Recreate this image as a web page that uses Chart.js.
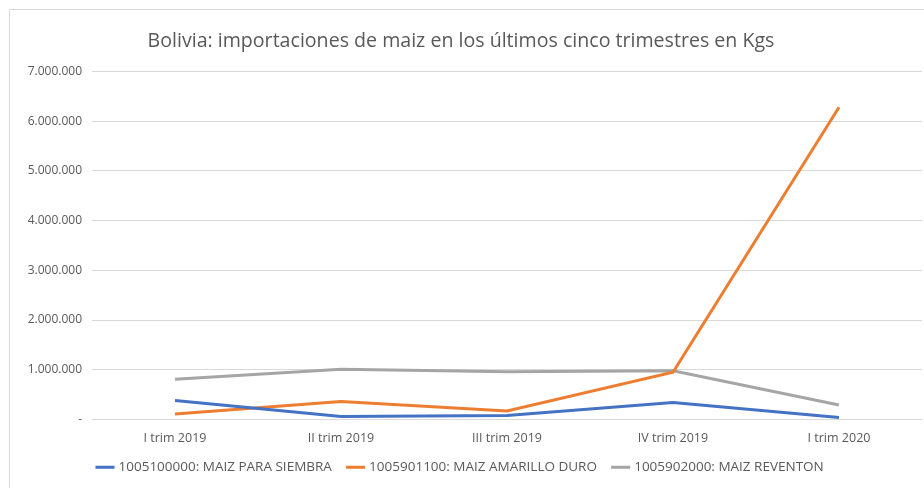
<!DOCTYPE html>
<html>
<head>
<meta charset="utf-8">
<script src="https://cdn.jsdelivr.net/npm/chart.js@4"></script>
<style>
  html, body { margin: 0; padding: 0; background: #fff; overflow: hidden; }
  #marco { position: absolute; left: 9px; top: 9px; width: 940px; height: 500px;
           border-left: 1px solid #d9d9d9; border-top: 1px solid #d9d9d9; }
  #grafico { position: absolute; left: 0; top: 0; }
</style>
</head>
<body>
<div id="marco"></div>
<canvas id="grafico" width="924" height="488"></canvas>
<script>
// trimestres y kgs importados
const trimestres = ["I trim 2019", "II trim 2019", "III trim 2019", "IV trim 2019", "I trim 2020"];
const siembra  = [380000, 60000, 80000, 340000, 40000];
const amarillo = [110000, 360000, 170000, 950000, 6280000];
const reventon = [810000, 1010000, 960000, 980000, 290000];

const gris = "#595959";

function formato(v) {
  if (v == 0) return "-";
  return v.toString().replace(/\B(?=(\d{3})+(?!\d))/g, ".");
}

const ctx = document.getElementById("grafico");

new Chart(ctx, {
  type: "line",
  data: {
    labels: trimestres,
    datasets: [
      { label: "1005100000: MAIZ PARA SIEMBRA", data: siembra, borderColor: "#4472C4", backgroundColor: "#4472C4", borderWidth: 3 },
      { label: "1005901100: MAIZ AMARILLO DURO", data: amarillo, borderColor: "#ED7D31", backgroundColor: "#ED7D31", borderWidth: 3 },
      { label: "1005902000: MAIZ REVENTON", data: reventon, borderColor: "#A5A5A5", backgroundColor: "#A5A5A5", borderWidth: 3 }
    ]
  },
  options: {
    responsive: false,
    animation: false,
    elements: {
      line: { tension: 0 },
      point: { radius: 0 }
    },
    layout: { padding: { left: 0, right: 2, top: 30, bottom: 4 } },
    plugins: {
      title: {
        display: true,
        text: "Bolivia: importaciones de maiz en los últimos cinco trimestres en Kgs",
        color: gris,
        font: { family: "Open Sans", size: 19.6, weight: "normal" },
        padding: { top: 0, bottom: 18 }
      },
      legend: {
        position: "bottom",
        labels: {
          color: gris,
          font: { family: "Open Sans", size: 13.5 },
          usePointStyle: true,
          pointStyle: "line",
          boxWidth: 32,
          padding: 17
        }
      },
      tooltip: { enabled: false }
    },
    scales: {
      x: {
        offset: true,
        afterFit: function (s) { s.height = 24; },
        grid: { display: false },
        border: { display: false },
        ticks: { color: gris, font: { family: "Open Sans", size: 12.5 }, padding: 3, maxRotation: 0 }
      },
      y: {
        min: 0,
        max: 7000000,
        afterFit: function (s) { s.width = 92; },
        grid: { color: "#d9d9d9", drawTicks: false },
        border: { display: false },
        ticks: {
          stepSize: 1000000,
          color: gris,
          font: { family: "Open Sans", size: 12 },
          padding: 10,
          callback: function (v) { return formato(v); }
        }
      }
    }
  }
});
</script>
</body>
</html>
